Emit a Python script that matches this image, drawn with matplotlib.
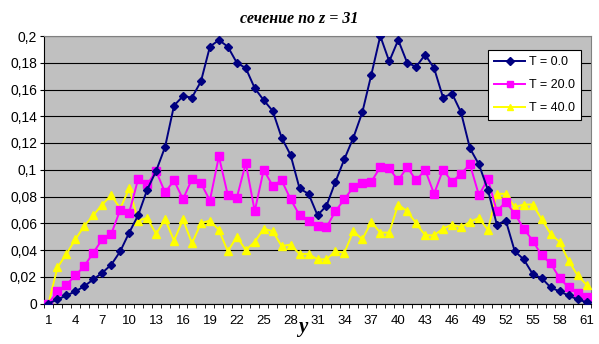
import numpy as np
import matplotlib
matplotlib.use('Agg')
from matplotlib import pyplot as plt

# data
y_pos = list(range(1, 62))

t0 = [0.000, 0.003, 0.006, 0.009, 0.013, 0.018, 0.023, 0.029, 0.039, 0.053,
      0.066, 0.085, 0.099, 0.117, 0.148, 0.155, 0.154, 0.166, 0.192, 0.197,
      0.192, 0.180, 0.176, 0.161, 0.152, 0.144, 0.124, 0.111, 0.086, 0.082,
      0.066, 0.073, 0.091, 0.108, 0.124, 0.143, 0.171, 0.200, 0.181, 0.197,
      0.180, 0.177, 0.186, 0.176, 0.154, 0.157, 0.143, 0.116, 0.104, 0.085,
      0.059, 0.062, 0.039, 0.033, 0.022, 0.019, 0.012, 0.009, 0.006, 0.003,
      0.001]

t20 = [0.000, 0.009, 0.014, 0.021, 0.028, 0.038, 0.048, 0.052, 0.070, 0.068,
       0.093, 0.089, 0.099, 0.083, 0.092, 0.078, 0.093, 0.090, 0.077, 0.110,
       0.081, 0.079, 0.105, 0.069, 0.100, 0.088, 0.092, 0.078, 0.066, 0.062,
       0.058, 0.057, 0.069, 0.078, 0.087, 0.090, 0.091, 0.102, 0.101, 0.092,
       0.102, 0.092, 0.100, 0.082, 0.100, 0.091, 0.097, 0.104, 0.081, 0.093,
       0.069, 0.076, 0.067, 0.056, 0.047, 0.036, 0.030, 0.019, 0.012, 0.008,
       0.005]

t40 = [0.000, 0.027, 0.037, 0.048, 0.058, 0.066, 0.074, 0.081, 0.071, 0.086,
       0.062, 0.064, 0.052, 0.063, 0.047, 0.063, 0.045, 0.060, 0.062, 0.055,
       0.039, 0.050, 0.040, 0.046, 0.056, 0.054, 0.043, 0.044, 0.037, 0.037,
       0.033, 0.033, 0.039, 0.038, 0.054, 0.048, 0.061, 0.053, 0.053, 0.074,
       0.069, 0.060, 0.051, 0.051, 0.056, 0.059, 0.057, 0.061, 0.064, 0.055,
       0.082, 0.082, 0.072, 0.074, 0.074, 0.063, 0.052, 0.046, 0.032, 0.021,
       0.014]

labels = ['T = 0.0', 'T = 20.0', 'T = 40.0']
y_ticks = [0, 0.02, 0.04, 0.06, 0.08, 0.1, 0.12, 0.14, 0.16, 0.18, 0.2]

fig = plt.figure(figsize=(5.99, 3.44), dpi=100)
ax = fig.add_axes([44 / 599., 40.5 / 344., 547 / 599., 267.5 / 344.])
ax.set_facecolor('#C0C0C0')

ax.plot(y_pos, t0, color='#000080', marker='D', markersize=4.5, lw=1.4,
        label=labels[0], zorder=5)
ax.plot(y_pos, t20, color='#FF00FF', marker='s', markersize=6, lw=1.4,
        label=labels[1], zorder=4)
ax.plot(y_pos, t40, color='#FFFF00', marker='^', markersize=6, lw=1.4,
        label=labels[2], zorder=3)

ax.set_xlim(0.5, 61.5)
ax.set_ylim(0, 0.2)
ax.set_yticks(y_ticks)
ax.set_yticklabels([('%g' % v).replace('.', ',') for v in y_ticks])
ax.yaxis.grid(True, color='black', lw=0.8)
ax.set_axisbelow(True)

ax.set_xticks(y_pos[::3])
ax.set_xticks(np.arange(0.5, 62, 1), minor=True)
ax.tick_params(axis='x', which='major', length=0, pad=8)
ax.tick_params(axis='x', which='minor', length=3, direction='out')
ax.tick_params(axis='y', length=3, direction='out', pad=2)
for lab in ax.get_xticklabels():
    lab.set_family('Liberation Sans')
    lab.set_fontsize(9.5)
for lab in ax.get_yticklabels():
    lab.set_family('Liberation Sans')
    lab.set_fontsize(10)

for s in ['top', 'right']:
    ax.spines[s].set_color('#808080')
ax.spines['left'].set_color('black')
ax.spines['bottom'].set_color('black')

fig.text(0.5, 0.945, 'сечение по z = 31', ha='center', va='center',
         family='Liberation Serif', style='italic', weight='bold', fontsize=11.5)
fig.text(0.506, 0.05, 'y', ha='center', va='center',
         family='Liberation Serif', style='italic', weight='bold', fontsize=15)

leg = ax.legend(loc='upper right', bbox_to_anchor=(0.982, 0.948),
                borderaxespad=0,
                prop={'family': 'Liberation Sans', 'size': 9},
                fancybox=False, framealpha=1, edgecolor='black',
                borderpad=0.5, handlelength=2.5, handletextpad=0.3,
                labelspacing=0.88, markerscale=0.8)
leg.get_frame().set_linewidth(0.8)

plt.savefig('out.png', dpi=100)
